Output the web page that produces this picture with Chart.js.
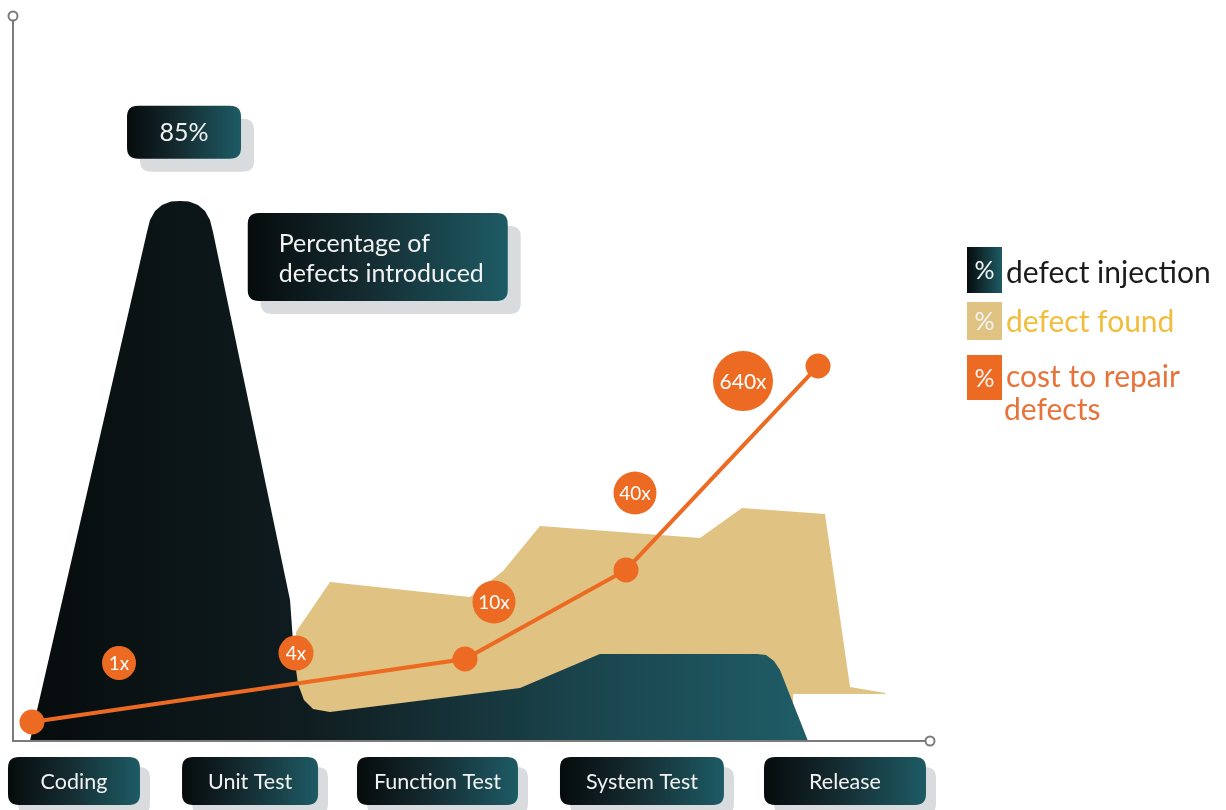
<!DOCTYPE html>
<html>
<head>
<meta charset="utf-8">
<script src="https://cdn.jsdelivr.net/npm/chart.js@4.4.1/dist/chart.umd.min.js"></script>
<style>
  html, body { margin: 0; padding: 0; background: #fff; }
  #wrap { position: relative; width: 1226px; height: 810px; }
</style>
</head>
<body>
<div id="wrap"><canvas id="chart" width="1226" height="810"></canvas></div>
<script>
// x: position along the development stages (0-100), y: percent
const stages = ['Coding', 'Unit Test', 'Function Test', 'System Test', 'Release'];
const stageX = [6.65, 25.85, 46.29, 68.59, 90.73];

// % defect injection (outline of the dark area)
const injectionX = [1.85, 14.61, 14.94, 15.49, 16.25, 17.23, 18.21, 19.19, 20.17, 20.94, 21.48, 21.81,
  30.21, 30.64, 31.08, 31.73, 32.72, 34.57, 55.29, 64.0, 81.13, 82.12, 82.99, 83.64, 86.7];
const injectionY = [0, 80.12, 82.0, 83.43, 84.37, 84.92, 85.0, 84.92, 84.37, 83.43, 82.0, 80.12,
  22.2, 13.54, 8.97, 6.45, 5.04, 4.56, 8.34, 13.69, 13.69, 13.54, 12.59, 11.18, 0];

// % defect found (top outline of the tan area, and the line it sits on)
const foundX = [30.86, 34.57, 49.84, 53.44, 57.47, 74.92, 79.5, 88.55, 91.28, 95.09];
const foundY = [17.16, 25.03, 22.67, 26.76, 33.84, 31.95, 36.68, 35.73, 8.5, 7.56];
const foundBaseX = [30.86, 85.06, 85.07, 95.1];
const foundBaseY = [3.5, 3.5, 7.4, 7.4];

// cost to repair defects
const costX = [2.07, 49.29, 66.85, 87.79];
const costY = [2.99, 12.91, 26.92, 59.03];

const multiplierText = ['1x', '4x', '10x', '40x', '640x'];
const multiplierX = [11.56, 30.86, 52.45, 67.83, 79.61];
const multiplierY = [12.28, 13.85, 21.88, 39.04, 56.67];
const multiplierSize = [17, 17.5, 21.5, 21.5, 30];

const peakText = '85%';
const noteText = ['Percentage of', 'defects introduced'];

const legendItems = ['defect injection', 'defect found', 'cost to repair'];

const DARK_A = '#060b0c';
const TEAL = '#1e5b65';
const TAN = '#e0c282';
const ORANGE = '#ec6a22';
const FONT = 'Lato, "Open Sans", sans-serif';

const pts = (xs, ys) => xs.map((x, i) => ({ x, y: ys[i] }));

function rr(ctx, x, y, w, h, r) {
  ctx.beginPath();
  ctx.moveTo(x + r, y);
  ctx.lineTo(x + w - r, y);
  ctx.quadraticCurveTo(x + w, y, x + w, y + r);
  ctx.lineTo(x + w, y + h - r);
  ctx.quadraticCurveTo(x + w, y + h, x + w - r, y + h);
  ctx.lineTo(x + r, y + h);
  ctx.quadraticCurveTo(x, y + h, x, y + h - r);
  ctx.lineTo(x, y + r);
  ctx.quadraticCurveTo(x, y, x + r, y);
  ctx.closePath();
}

function tag(ctx, x, y, w, h, off) {
  ctx.save();
  ctx.fillStyle = '#d9dcde';
  rr(ctx, x + off, y + off, w, h, 11);
  ctx.fill();
  const g = ctx.createLinearGradient(x, 0, x + w, 0);
  g.addColorStop(0, DARK_A);
  g.addColorStop(0.45, '#142b30');
  g.addColorStop(1, TEAL);
  ctx.fillStyle = g;
  rr(ctx, x, y, w, h, 11);
  ctx.fill();
  ctx.restore();
}

const decor = {
  id: 'decor',
  afterDatasetsDraw(chart) {
    const { ctx, scales: { x, y } } = chart;
    ctx.save();
    ctx.fillStyle = '#fff';
    ctx.textAlign = 'center';
    ctx.textBaseline = 'middle';
    multiplierText.forEach((t, i) => {
      ctx.font = (t.length > 3 ? '21px ' : '19px ') + FONT;
      ctx.fillText(t, x.getPixelForValue(multiplierX[i]), y.getPixelForValue(multiplierY[i]) + 1);
    });
    ctx.restore();
  },
  afterDraw(chart) {
    const { ctx, chartArea: a, scales: { x, y } } = chart;
    ctx.save();
    // axes
    ctx.strokeStyle = '#7b7b7b';
    ctx.lineWidth = 2;
    ctx.beginPath();
    ctx.moveTo(a.left, a.top + 1);
    ctx.lineTo(a.left, a.bottom);
    ctx.lineTo(a.right - 5, a.bottom);
    ctx.stroke();
    ctx.fillStyle = '#fff';
    ctx.beginPath(); ctx.arc(a.left, a.top - 4, 4.5, 0, Math.PI * 2); ctx.fill(); ctx.stroke();
    ctx.beginPath(); ctx.arc(a.right, a.bottom, 4.5, 0, Math.PI * 2); ctx.fill(); ctx.stroke();

    // stage labels
    const boxW = [132, 136, 161, 164, 162];
    stages.forEach((s, i) => {
      const cx = x.getPixelForValue(stageX[i]);
      tag(ctx, cx - boxW[i] / 2, a.bottom + 16, boxW[i], 48, 10);
      ctx.fillStyle = '#f2f2f2';
      ctx.font = '21.5px ' + FONT;
      ctx.textAlign = 'center';
      ctx.textBaseline = 'middle';
      ctx.fillText(s, cx, a.bottom + 41);
    });

    // peak value and note
    const px = x.getPixelForValue(18.65), py = y.getPixelForValue(95.9);
    tag(ctx, px - 57, py - 26, 114, 53, 13);
    ctx.fillStyle = '#f2f2f2';
    ctx.font = '25px ' + FONT;
    ctx.textAlign = 'center';
    ctx.fillText(peakText, px, py + 1);

    const nx = x.getPixelForValue(25.6), ny = y.getPixelForValue(83.1);
    tag(ctx, nx, ny, 260, 88, 13);
    ctx.fillStyle = '#f2f2f2';
    ctx.textAlign = 'left';
    ctx.font = '25px ' + FONT;
    ctx.fillText(noteText[0], nx + 31, ny + 31);
    ctx.fillText(noteText[1], nx + 31, ny + 61);

    // legend
    const lx = 967;
    const sq = [[247, 46], [302, 38], [355, 45]];
    const fills = [null, TAN, ORANGE];
    const textCol = ['#1c1c1c', '#f1bd3c', '#e8733a'];
    const textY = [273, 322, 377];
    sq.forEach(([top, h], i) => {
      if (i === 0) {
        const g = ctx.createLinearGradient(lx, 0, lx + 35, 0);
        g.addColorStop(0, DARK_A);
        g.addColorStop(1, TEAL);
        ctx.fillStyle = g;
      } else {
        ctx.fillStyle = fills[i];
      }
      ctx.fillRect(lx, top, 35, h);
      ctx.fillStyle = '#f4f4f4';
      ctx.font = '25px ' + FONT;
      ctx.textAlign = 'center';
      ctx.fillText('%', lx + 17.5, top + h / 2 + 1);
      ctx.fillStyle = textCol[i];
      ctx.font = '30px ' + FONT;
      ctx.textAlign = 'left';
      ctx.fillText(legendItems[i], lx + 39, textY[i]);
    });
    ctx.fillText('defects', lx + 37, 410);
    ctx.restore();
  }
};

function draw() {
  new Chart(document.getElementById('chart'), {
    type: 'line',
    data: {
      datasets: [
        {
          label: '% cost to repair defects (values)',
          type: 'bubble',
          data: multiplierX.map((v, i) => ({ x: v, y: multiplierY[i], r: multiplierSize[i] })),
          backgroundColor: ORANGE,
          borderWidth: 0,
          order: 1
        },
        {
          label: '% cost to repair defects',
          data: pts(costX, costY),
          borderColor: ORANGE,
          borderWidth: 4,
          pointRadius: 12.5,
          pointBackgroundColor: ORANGE,
          pointBorderWidth: 0,
          fill: false,
          order: 2
        },
        {
          label: '% defect injection',
          data: pts(injectionX, injectionY),
          borderWidth: 0,
          pointRadius: 0,
          fill: 'origin',
          backgroundColor: (c) => {
            const ch = c.chart;
            if (!ch.chartArea) return DARK_A;
            const xs = ch.scales.x;
            const g = ch.ctx.createLinearGradient(xs.getPixelForValue(injectionX[0]), 0, xs.getPixelForValue(injectionX[injectionX.length - 1]), 0);
            g.addColorStop(0, '#070c0d');
            g.addColorStop(0.35, '#0f1c1f');
            g.addColorStop(0.7, '#1a434b');
            g.addColorStop(1, '#1f5d67');
            return g;
          },
          order: 3
        },
        {
          label: '% defect found',
          data: pts(foundX, foundY),
          borderWidth: 0,
          pointRadius: 0,
          fill: { target: 4 },
          backgroundColor: TAN,
          order: 4
        },
        {
          label: 'defect found base',
          data: pts(foundBaseX, foundBaseY),
          borderWidth: 0,
          borderColor: 'rgba(0,0,0,0)',
          pointRadius: 0,
          fill: false,
          order: 5
        }
      ]
    },
    options: {
      responsive: false,
      animation: false,
      clip: false,
      layout: { autoPadding: false, padding: { left: 13, right: 296, top: 20, bottom: 69 } },
      scales: {
        x: { type: 'linear', min: 0, max: 100, display: false },
        y: { type: 'linear', min: 0, max: 113.5, display: false }
      },
      plugins: { legend: { display: false }, tooltip: { enabled: false } },
      elements: { line: { tension: 0 } }
    },
    plugins: [decor]
  });
}

document.fonts.load('21px Lato').then(draw, draw);
</script>
</body>
</html>
